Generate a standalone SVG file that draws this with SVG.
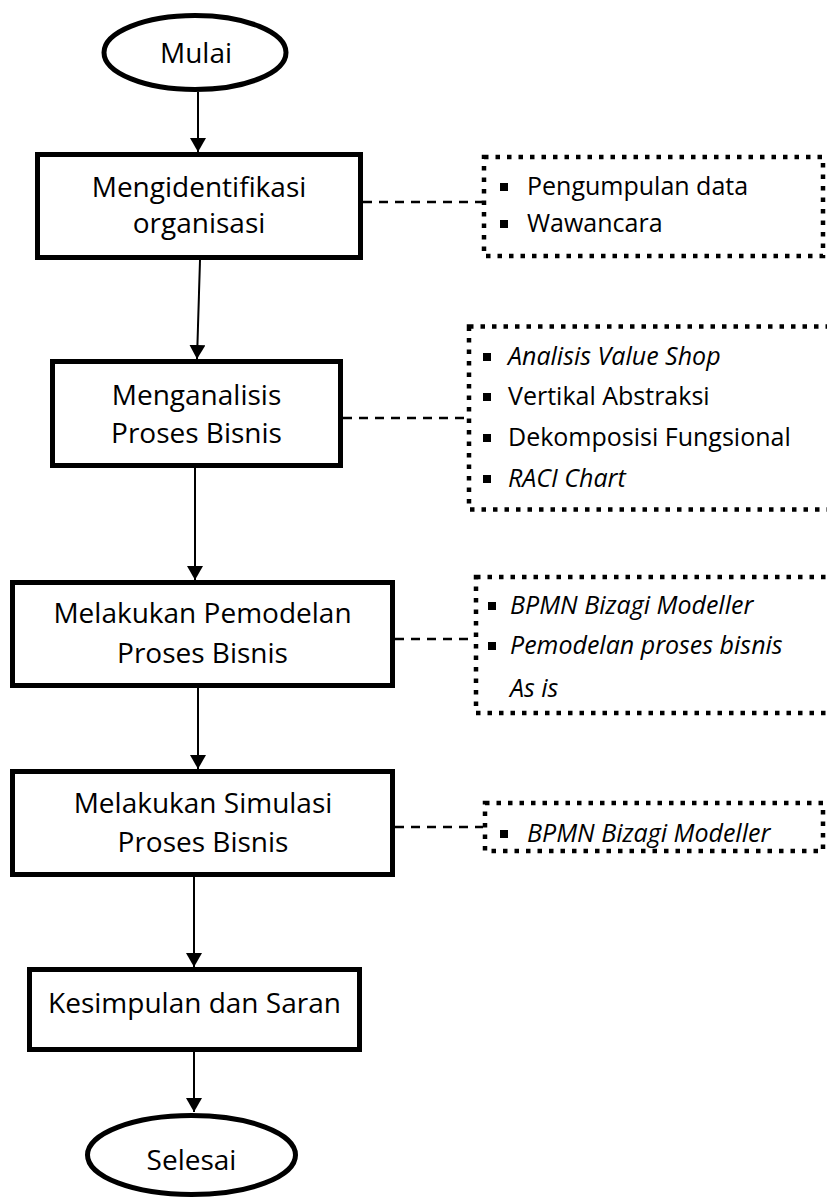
<svg xmlns="http://www.w3.org/2000/svg" width="827" height="1198" viewBox="0 0 827 1198">
<style>
.box{fill:#fff;stroke:#000;stroke-width:5}
.term{fill:#fff;stroke:#000;stroke-width:5}
.note{fill:none;stroke:#000;stroke-width:4.5;stroke-dasharray:4.5 7}
.t{font-family:"Open Sans","Noto Sans","Liberation Sans",sans-serif;font-size:28px;fill:#000;text-anchor:middle}
.b{font-family:"Open Sans","Noto Sans","Liberation Sans",sans-serif;font-size:25px;fill:#000}
.i{font-style:italic}
.arrow{stroke:#000;stroke-width:2;fill:none}
.dash{stroke:#000;stroke-width:2.5;stroke-dasharray:9 7;fill:none}
.sq{fill:#000}
</style>
<defs>
<marker id="ah" markerUnits="userSpaceOnUse" markerWidth="18" markerHeight="16" refX="14" refY="8" orient="auto">
<path d="M0,0 L14,8 L0,16 Z" fill="#000"/>
</marker>
</defs>
<g id="connectors">
<line class="arrow" x1="198" y1="92" x2="198" y2="152" marker-end="url(#ah)"/>
<line class="arrow" x1="200" y1="260" x2="197" y2="359" marker-end="url(#ah)"/>
<line class="arrow" x1="195" y1="468" x2="195" y2="580" marker-end="url(#ah)"/>
<line class="arrow" x1="198" y1="688" x2="198" y2="769" marker-end="url(#ah)"/>
<line class="arrow" x1="194" y1="877" x2="194" y2="967" marker-end="url(#ah)"/>
<line class="arrow" x1="194" y1="1052" x2="194" y2="1112" marker-end="url(#ah)"/>
<line class="dash" x1="363" y1="202" x2="482" y2="202"/>
<line class="dash" x1="343" y1="418" x2="467" y2="418"/>
<line class="dash" x1="395" y1="639" x2="474" y2="639"/>
<line class="dash" x1="395" y1="827" x2="483" y2="827"/>
</g>
<g id="mulai">
<ellipse class="term" cx="195" cy="52.5" rx="91" ry="37"/>
<text class="t" x="196" y="63">Mulai</text>
</g>
<g id="mengidentifikasi">
<rect class="box" x="37.5" y="154.5" width="323" height="103"/>
<text class="t" x="199" y="197">Mengidentifikasi</text>
<text class="t" x="199" y="233">organisasi</text>
</g>
<g id="menganalisis">
<rect class="box" x="52.5" y="361.5" width="288" height="104"/>
<text class="t" x="196.5" y="405">Menganalisis</text>
<text class="t" x="196.5" y="443">Proses Bisnis</text>
</g>
<g id="pemodelan">
<rect class="box" x="12.5" y="582.5" width="380" height="103"/>
<text class="t" x="202.5" y="623">Melakukan Pemodelan</text>
<text class="t" x="202.5" y="663">Proses Bisnis</text>
</g>
<g id="simulasi">
<rect class="box" x="12.5" y="771.5" width="380" height="103"/>
<text class="t" x="203" y="813">Melakukan Simulasi</text>
<text class="t" x="203" y="852">Proses Bisnis</text>
</g>
<g id="kesimpulan">
<rect class="box" x="29.5" y="969.5" width="330" height="80"/>
<text class="t" x="194.5" y="1013">Kesimpulan dan Saran</text>
</g>
<g id="selesai">
<ellipse class="term" cx="191.5" cy="1155" rx="104" ry="39.5"/>
<text class="t" x="191.5" y="1170">Selesai</text>
</g>
<g id="note1">
<rect class="note" x="484" y="157" width="339" height="99"/>
<rect class="sq" x="500" y="183" width="8" height="8"/>
<text class="b" x="527" y="195">Pengumpulan data</text>
<rect class="sq" x="500" y="220" width="8" height="8"/>
<text class="b" x="527" y="232">Wawancara</text>
</g>
<g id="note2">
<rect class="note" x="469" y="326.5" width="400" height="183"/>
<rect class="sq" x="483" y="353" width="8" height="8"/>
<text class="b i" x="508" y="365">Analisis Value Shop</text>
<rect class="sq" x="483" y="393" width="8" height="8"/>
<text class="b" x="508" y="405">Vertikal Abstraksi</text>
<rect class="sq" x="483" y="434" width="8" height="8"/>
<text class="b" x="508" y="446">Dekomposisi Fungsional</text>
<rect class="sq" x="483" y="475" width="8" height="8"/>
<text class="b i" x="508" y="487">RACI Chart</text>
</g>
<g id="note3">
<rect class="note" x="476" y="577" width="400" height="136"/>
<rect class="sq" x="488" y="602" width="8" height="8"/>
<text class="b i" x="510" y="614">BPMN Bizagi Modeller</text>
<rect class="sq" x="488" y="642" width="8" height="8"/>
<text class="b i" x="510" y="654">Pemodelan proses bisnis</text>
<text class="b i" x="510" y="697">As is</text>
</g>
<g id="note4">
<rect class="note" x="485" y="803" width="338" height="48"/>
<rect class="sq" x="500" y="830" width="8" height="8"/>
<text class="b i" x="527" y="842">BPMN Bizagi Modeller</text>
</g>
</svg>
